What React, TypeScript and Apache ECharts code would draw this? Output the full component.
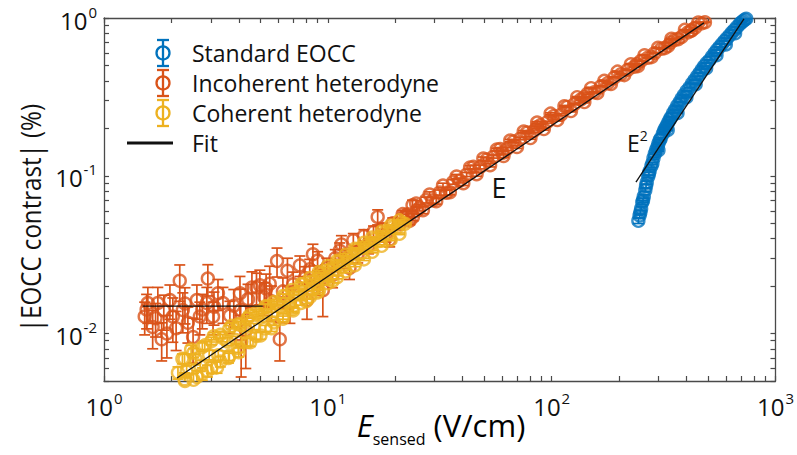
import React, { useEffect, useRef } from "react";
import * as echarts from "echarts";

// ---------- data (linear units) ----------
const standardE = [244, 247, 249, 251, 254, 256, 258, 262, 264, 266, 270, 272, 274, 279, 282, 285, 289, 293, 297, 300, 300, 304, 307, 314, 318, 322, 327, 330, 332, 337, 342, 349, 356, 364, 365, 373, 381, 390, 400, 401, 413, 424, 435, 440, 447, 458, 469, 480, 490, 493, 507, 521, 535, 545, 548, 562, 577, 592, 600, 607, 623, 639, 655, 660, 673, 691, 703, 715, 728, 740];
const standardY = [0.0518, 0.056, 0.0585, 0.0618, 0.068, 0.07, 0.074, 0.081, 0.086, 0.0905, 0.099, 0.103, 0.107, 0.1154, 0.12, 0.129, 0.138, 0.1456, 0.152, 0.16, 0.145, 0.168, 0.172, 0.1849, 0.193, 0.2, 0.208, 0.195, 0.218, 0.227, 0.236, 0.25, 0.262, 0.278, 0.25, 0.2924, 0.309, 0.325, 0.315, 0.345, 0.3622, 0.385, 0.405, 0.38, 0.427, 0.4487, 0.472, 0.495, 0.48, 0.518, 0.5408, 0.57, 0.6, 0.58, 0.628, 0.6541, 0.685, 0.715, 0.68, 0.745, 0.7737, 0.808, 0.84, 0.8, 0.878, 0.914, 0.935, 0.955, 0.975, 0.99];

const incoherentE = [1.52, 1.55, 1.57, 1.65, 1.7, 1.74, 1.81, 1.85, 1.91, 1.97, 2.03, 2.1, 2.18, 2.25, 2.3, 2.37, 2.5, 2.6, 2.68, 2.75, 2.88, 2.91, 3.07, 3.1, 3.23, 3.4, 3.65, 3.8, 4.05, 4.08, 4.1, 4.3, 4.4, 4.58, 4.8, 4.97, 5.2, 5.3, 5.5, 5.6, 5.93, 6.1, 6.3, 6.6, 6.77, 7.0, 7.5, 7.9, 8.07, 8.3, 8.58, 9.0, 9.2, 9.5, 9.9, 10.5, 10.8, 11.3, 11.5, 12.0, 12.5, 13.0, 13.6, 14.5, 15.2, 16.0, 16.7, 17.5, 18.2, 18.9, 19.5, 20.9, 21.5, 22.4, 22.8, 23.9, 24.0, 25.0, 25.7, 27.5, 29.5, 31.6, 33.9, 36.3, 38.9, 41.7, 44.7, 47.9, 51.3, 55.0, 58.9, 60.5, 63.1, 67.6, 72.4, 77.6, 83.2, 86.0, 89.1, 95.5, 102, 110, 117, 126, 135, 140, 145, 155, 166, 178, 191, 204, 219, 234, 240, 251, 269, 288, 309, 331, 340, 355, 380, 407, 420, 437, 468, 484];
const incoherentY = [0.0128, 0.0142, 0.0156, 0.011, 0.0125, 0.0156, 0.0092, 0.014, 0.01, 0.0163, 0.0128, 0.0108, 0.0216, 0.0141, 0.0155, 0.0117, 0.0095, 0.0163, 0.0128, 0.0142, 0.0156, 0.0223, 0.0128, 0.0148, 0.018, 0.0156, 0.013, 0.015, 0.018, 0.0141, 0.0089, 0.0105, 0.0165, 0.0196, 0.0196, 0.0202, 0.017, 0.0193, 0.0207, 0.016, 0.0288, 0.0092, 0.0185, 0.025, 0.0156, 0.0205, 0.027, 0.0225, 0.0163, 0.0255, 0.0318, 0.029, 0.0215, 0.0188, 0.026, 0.0235, 0.03, 0.0335, 0.0367, 0.03, 0.026, 0.039, 0.032, 0.0415, 0.036, 0.044, 0.0548, 0.046, 0.042, 0.0394, 0.05, 0.0492, 0.054, 0.0564, 0.057, 0.065, 0.0548, 0.06, 0.0628, 0.0702, 0.07, 0.0782, 0.078, 0.0914, 0.0931, 0.1019, 0.1138, 0.1135, 0.1268, 0.1324, 0.1479, 0.14, 0.1476, 0.1648, 0.1722, 0.1879, 0.1919, 0.203, 0.2094, 0.2188, 0.2388, 0.2438, 0.2729, 0.2844, 0.3041, 0.315, 0.3319, 0.3388, 0.3698, 0.3864, 0.4217, 0.4406, 0.4699, 0.4909, 0.51, 0.5358, 0.5598, 0.597, 0.6383, 0.6653, 0.7, 0.7278, 0.7586, 0.811, 0.83, 0.867, 0.9247, 0.94];
const incoherentErr = [0.003, 0.0035, 0.004, 0.003, 0.003, 0.004, 0.0025, 0.0035, 0.003, 0.004, 0.004, 0.003, 0.0056, 0.004, 0.004, 0.003, 0.003, 0.004, 0.003, 0.0035, 0.004, 0.005, 0.003, 0.0035, 0.004, 0.004, 0.003, 0.004, 0.005, 0.005, 0.0036, 0.0045, 0.004, 0.005, 0.0045, 0.005, 0.004, 0.0045, 0.006, 0.004, 0.006, 0.0025, 0.004, 0.005, 0.004, 0.004, 0.004, 0.004, 0.004, 0.004, 0.005, 0.004, 0.004, 0.006, 0.004, 0.004, 0.004, 0.004, 0.005, 0.004, 0.004, 0.004, 0.004, 0.004, 0.004, 0.004, 0.006, 0.004, 0.004, 0.004, 0.004, 0.003, 0.003, 0.003, 0.003, 0.005, 0.003, 0.003, 0.003, 0.003, 0.003, 0.003, 0.003, 0.003, 0.003, 0.003, 0.003, 0.003, 0.003, 0.003, 0.003, 0.003, 0.003, 0.003, 0.003, 0.003, 0.003, 0.003, 0.003, 0.003, 0.003, 0.003, 0.003, 0.003, 0.003, 0.003, 0.003, 0.003, 0.003, 0.003, 0.003, 0.003, 0.003, 0.003, 0.003, 0.003, 0.003, 0.003, 0.003, 0.003, 0.003, 0.003, 0.003, 0.003, 0.003, 0.003, 0.003, 0.003];
// dense high-field part of the incoherent band
const incoherentBandE = [21.6, 23.2, 24.8, 26.6, 28.5, 30.5, 32.7, 35.1, 37.6, 40.3, 43.2, 46.2, 49.5, 53.1, 56.9, 61.0, 65.3, 70.0, 75.0, 80.4, 86.1, 92.3, 98.9, 106, 114, 122, 130, 140, 150, 160, 172, 184, 197, 211, 226, 243, 260, 279, 299, 320, 343, 367, 394, 422, 452];
const incoherentBandY = [0.0571, 0.0519, 0.0667, 0.0605, 0.076, 0.069, 0.0867, 0.0787, 0.0989, 0.0897, 0.1127, 0.1023, 0.1285, 0.1167, 0.1466, 0.1334, 0.1671, 0.1521, 0.1905, 0.1734, 0.2173, 0.1977, 0.2477, 0.2254, 0.2761, 0.257, 0.3148, 0.2931, 0.3589, 0.3342, 0.3999, 0.3811, 0.4571, 0.4345, 0.5093, 0.4955, 0.5808, 0.5649, 0.6471, 0.6442, 0.7379, 0.7345, 0.8414, 0.8375, 0.9376];

const coherentE = [2.14, 2.24, 2.34, 2.45, 2.57, 2.69, 2.82, 2.95, 3.09, 3.24, 3.39, 3.55, 3.72, 3.89, 4.07, 4.27, 4.47, 4.68, 4.9, 5.13, 5.37, 5.62, 5.89, 6.17, 6.46, 6.76, 7.08, 7.41, 7.76, 8.13, 8.51, 8.91, 9.33, 9.77, 10.2, 10.7, 11.2, 11.7, 12.3, 12.9, 13.5, 14.1, 14.8, 15.5, 16.2, 17.0, 17.8, 18.6, 19.5, 20.4, 21.4, 22.1, 2.3, 2.6, 2.9, 3.2, 3.6, 4.0, 4.5, 5.0, 5.6, 6.3, 7.0, 8.0, 9.0, 10.5];
const coherentY = [0.00564, 0.00692, 0.00574, 0.00791, 0.00687, 0.00625, 0.00841, 0.00731, 0.00962, 0.00728, 0.00935, 0.00891, 0.01119, 0.00908, 0.0114, 0.01086, 0.01303, 0.01107, 0.01327, 0.01294, 0.01483, 0.01318, 0.01545, 0.01472, 0.01726, 0.01535, 0.01799, 0.01795, 0.02056, 0.01828, 0.02143, 0.02089, 0.02393, 0.02228, 0.02559, 0.02553, 0.02858, 0.02661, 0.03048, 0.03041, 0.03404, 0.03243, 0.03631, 0.03622, 0.03963, 0.03864, 0.04325, 0.04315, 0.04721, 0.0471, 0.05035, 0.0497, 0.005, 0.0053, 0.0058, 0.0061, 0.007, 0.0076, 0.0088, 0.0097, 0.0108, 0.0124, 0.014, 0.016, 0.0182, 0.0215];
// upper and lower edges of the coherent band
const coherentEdgeE = [2.29, 2.51, 2.75, 3.02, 3.31, 3.63, 3.98, 4.37, 4.79, 5.25, 5.75, 6.31, 6.92, 7.59, 8.32, 9.12, 10.0, 11.0, 12.0, 13.2, 14.5, 15.8, 17.4, 19.1, 20.9, 2.29, 2.51, 2.75, 3.02, 3.31, 3.63, 3.98, 4.37, 4.79, 5.25, 5.75, 6.31, 6.92, 7.59, 8.32, 9.12, 10.0, 11.0, 12.0, 13.2, 14.5, 15.8, 17.4, 19.1, 20.9];
const coherentEdgeY = [0.0069, 0.00753, 0.00822, 0.00897, 0.00982, 0.01072, 0.01143, 0.01247, 0.01361, 0.01486, 0.01585, 0.0173, 0.01888, 0.02061, 0.02249, 0.02455, 0.02679, 0.02891, 0.03155, 0.03443, 0.03758, 0.04055, 0.04426, 0.04831, 0.05212, 0.00513, 0.00509, 0.00556, 0.00607, 0.00664, 0.00724, 0.00809, 0.00883, 0.00964, 0.01076, 0.01175, 0.01282, 0.01432, 0.01563, 0.01706, 0.01862, 0.0208, 0.0227, 0.02477, 0.02704, 0.02951, 0.03296, 0.03597, 0.03926, 0.04285];

const standardErrValue = 0.002;
const incoherentBandErrValue = 0.003;
const coherentErrValue = 0.0005;

// fit lines: [E, y] endpoints
const fitLinearE = [2.12, 479];
const fitLinearY = [0.00522, 0.931];
const fitPlateauE = [1.49, 5.12];
const fitPlateauY = [0.0149, 0.0149];
const fitQuadE = [238, 723];
const fitQuadY = [0.091, 0.986];

const legendLabels = ["Standard EOCC", "Incoherent heterodyne", "Coherent heterodyne", "Fit"];
const xTickExponents = [0, 1, 2, 3];
const yTickExponents = [-2, -1, 0];
const xRange = [1, 1000];
const yRange = [0.005, 1];

const COLORS = ["#0072BD", "#D95319", "#EDB120"];
const FONT = '"Open Sans", "Noto Sans", sans-serif';
const AXIS = "#4a4a4a";
const TEXT = "#111111";

const lg = (v: number) => Math.log10(v);

function logTicks(minV: number, maxV: number) {
  const out: number[] = [];
  const lo = Math.floor(lg(minV));
  const hi = Math.ceil(lg(maxV));
  for (let n = lo; n <= hi; n++) {
    for (let k = 1; k <= 9; k++) {
      const v = k * Math.pow(10, n);
      if (v >= minV * 0.9999 && v <= maxV * 1.0001) out.push(lg(v));
    }
  }
  return out;
}

function pts(E: number[], Y: number[]) {
  return E.map((e, i) => [lg(e), lg(Y[i])]);
}
function bars(E: number[], Y: number[], R: number[]) {
  return E.map((e, i) => [lg(e), lg(Math.max(Y[i] - R[i], 1e-5)), lg(Y[i] + R[i])]);
}
const fill = (n: number, v: number) => new Array(n).fill(v);

export default function App() {
  const ref = useRef<HTMLDivElement>(null);
  useEffect(() => {
    document.body.style.margin = "0";
    if (!ref.current) return;
    const chart = echarts.init(ref.current, undefined, { renderer: "svg" });
    const xTicks = logTicks(xRange[0], xRange[1]);
    const yTicks = logTicks(yRange[0], yRange[1]);

    const xRich = {
      b: { fontSize: 24, fontFamily: FONT, color: TEXT, lineHeight: 28, verticalAlign: "bottom" },
      s: { fontSize: 15, fontFamily: FONT, color: TEXT, lineHeight: 28, verticalAlign: "top", padding: [0, 0, 0, 1] },
    };
    const yRich = {
      b: { fontSize: 24, fontFamily: FONT, color: TEXT, lineHeight: 28, verticalAlign: "bottom" },
      s: { fontSize: 15, fontFamily: FONT, color: TEXT, lineHeight: 28, verticalAlign: "top", padding: [0, 0, 0, 1] },
      bt: { fontSize: 24, fontFamily: FONT, color: TEXT, lineHeight: 28, verticalAlign: "bottom", padding: [8, 0, 0, 0] },
      st: { fontSize: 15, fontFamily: FONT, color: TEXT, lineHeight: 28, verticalAlign: "top", padding: [0, 0, 8, 1] },
    };
    const fmtX = (v: number) => `{b|10}{s|${Math.round(v)}}`;
    const fmtY = (v: number) => (Math.round(v) === 0 ? `{bt|10}{st|0}` : `{b|10}{s|${Math.round(v)}}`);

    const baseX = {
      type: "value",
      min: lg(xRange[0]),
      max: lg(xRange[1]),
      splitLine: { show: false },
      axisLine: { show: true, onZero: false, lineStyle: { color: AXIS, width: 1.3 } },
      axisTick: { show: true, inside: true, length: 5, customValues: xTicks, lineStyle: { color: AXIS, width: 1.2 } },
    };
    const baseY = {
      type: "value",
      min: lg(yRange[0]),
      max: lg(yRange[1]),
      splitLine: { show: false },
      axisLine: { show: true, onZero: false, lineStyle: { color: AXIS, width: 1.3 } },
      axisTick: { show: true, inside: true, length: 5, customValues: yTicks, lineStyle: { color: AXIS, width: 1.2 } },
    };

    const errSeries = (data: number[][], color: string, z: number) => ({
      type: "custom",
      z,
      clip: true,
      silent: true,
      data,
      encode: { x: 0, y: [1, 2] },
      renderItem: (params: any, api: any) => {
        const x = api.value(0);
        const lo = api.coord([x, api.value(1)]);
        const hi = api.coord([x, api.value(2)]);
        const cap = 5.5;
        const style = { stroke: color, lineWidth: 1.7, fill: "none" };
        return {
          type: "group",
          children: [
            { type: "line", shape: { x1: lo[0], y1: lo[1], x2: hi[0], y2: hi[1] }, style },
            { type: "line", shape: { x1: lo[0] - cap, y1: lo[1], x2: lo[0] + cap, y2: lo[1] }, style },
            { type: "line", shape: { x1: hi[0] - cap, y1: hi[1], x2: hi[0] + cap, y2: hi[1] }, style },
          ],
        };
      },
    });
    const scatterSeries = (data: number[][], color: string, z: number, name: string) => ({
      type: "scatter",
      name,
      z,
      data,
      symbol: "circle",
      symbolSize: 12,
      silent: true,
      itemStyle: { color: "rgba(255,255,255,0)", borderColor: color, borderWidth: 2.4 },
      emphasis: { disabled: true },
    });
    const fitSeries = (E: number[], Y: number[]) => ({
      type: "line",
      z: 20,
      silent: true,
      showSymbol: false,
      symbol: "none",
      data: pts(E, Y),
      lineStyle: { color: "#111", width: 1.3 },
    });

    const allIncE = incoherentE.concat(incoherentBandE);
    const allIncY = incoherentY.concat(incoherentBandY);
    const allIncR = incoherentErr.concat(fill(incoherentBandE.length, incoherentBandErrValue));
    const allCohE = coherentE.concat(coherentEdgeE);
    const allCohY = coherentY.concat(coherentEdgeY);
    const allCohR = fill(allCohE.length, coherentErrValue);

    const rowY = [53, 83, 113];
    const legendGraphics: any[] = [];
    rowY.forEach((y, i) => {
      const st = { stroke: COLORS[i], lineWidth: 2.3, fill: "none" };
      legendGraphics.push(
        { type: "line", shape: { x1: 163, y1: y - 13, x2: 163, y2: y + 13 }, style: st },
        { type: "line", shape: { x1: 157, y1: y - 13, x2: 169, y2: y - 13 }, style: st },
        { type: "line", shape: { x1: 157, y1: y + 13, x2: 169, y2: y + 13 }, style: st },
        { type: "circle", shape: { cx: 163, cy: y, r: 6.5 }, style: { stroke: COLORS[i], lineWidth: 2.3, fill: "rgba(255,255,255,0)" } },
        { type: "text", x: 192, y, style: { text: legendLabels[i], font: `23px ${FONT}`, fill: TEXT, verticalAlign: "middle", align: "left" } }
      );
    });
    legendGraphics.push(
      { type: "line", shape: { x1: 127, y1: 143, x2: 173, y2: 143 }, style: { stroke: "#111", lineWidth: 3 } },
      { type: "text", x: 192, y: 143, style: { text: legendLabels[3], font: `23px ${FONT}`, fill: TEXT, verticalAlign: "middle", align: "left" } }
    );

    chart.setOption({
      animation: false,
      backgroundColor: "#ffffff",
      grid: { left: 104, right: 20, top: 12, bottom: 74, containLabel: false },
      xAxis: [
        { ...baseX, position: "bottom", axisLabel: { show: true, customValues: xTickExponents, margin: 9, formatter: fmtX, rich: xRich } },
        { ...baseX, position: "top", axisLabel: { show: false } },
      ],
      yAxis: [
        { ...baseY, position: "left", axisLabel: { show: true, customValues: yTickExponents, margin: 7, formatter: fmtY, rich: yRich } },
        { ...baseY, position: "right", axisLabel: { show: false } },
      ],
      graphic: [
        ...legendGraphics,
        { type: "text", x: 499, y: 187, style: { text: "E", font: `27px ${FONT}`, fill: TEXT, align: "center", verticalAlign: "middle" } },
        {
          type: "text",
          x: 627,
          y: 128,
          style: {
            text: "{b|E}{s|2}",
            fill: TEXT,
            rich: {
              b: { fontSize: 23, fontFamily: FONT, color: TEXT, lineHeight: 26, verticalAlign: "bottom" },
              s: { fontSize: 14, fontFamily: FONT, color: TEXT, lineHeight: 26, verticalAlign: "top" },
            },
          },
        },
        {
          type: "text",
          x: 30,
          y: 218,
          rotation: Math.PI / 2,
          scaleX: 0.86,
          style: { text: "|EOCC contrast| (%)", font: `28px ${FONT}`, fill: TEXT, align: "center", verticalAlign: "middle" },
        },
        {
          type: "text",
          x: 441,
          y: 428,
          style: {
            text: "{i|E}{sub|sensed}{n| (V/cm)}",
            align: "center",
            verticalAlign: "middle",
            rich: {
              i: { fontSize: 31, fontFamily: FONT, fontStyle: "italic", color: TEXT, lineHeight: 38, verticalAlign: "top" },
              sub: { fontSize: 16, fontFamily: FONT, color: TEXT, lineHeight: 38, verticalAlign: "bottom" },
              n: { fontSize: 31, fontFamily: FONT, color: TEXT, lineHeight: 38, verticalAlign: "top" },
            },
          },
        },
      ],
      series: [
        errSeries(bars(standardE, standardY, fill(standardE.length, standardErrValue)), COLORS[0], 2),
        scatterSeries(pts(standardE, standardY), COLORS[0], 3, legendLabels[0]),
        errSeries(bars(allIncE, allIncY, allIncR), COLORS[1], 4),
        scatterSeries(pts(allIncE, allIncY), COLORS[1], 5, legendLabels[1]),
        errSeries(bars(allCohE, allCohY, allCohR), COLORS[2], 6),
        scatterSeries(pts(allCohE, allCohY), COLORS[2], 7, legendLabels[2]),
        fitSeries(fitLinearE, fitLinearY),
        fitSeries(fitPlateauE, fitPlateauY),
        fitSeries(fitQuadE, fitQuadY),
      ],
    });
    return () => chart.dispose();
  }, []);
  return <div ref={ref} style={{ position: "absolute", left: 0, top: 0, width: 797, height: 455 }} />;
}
